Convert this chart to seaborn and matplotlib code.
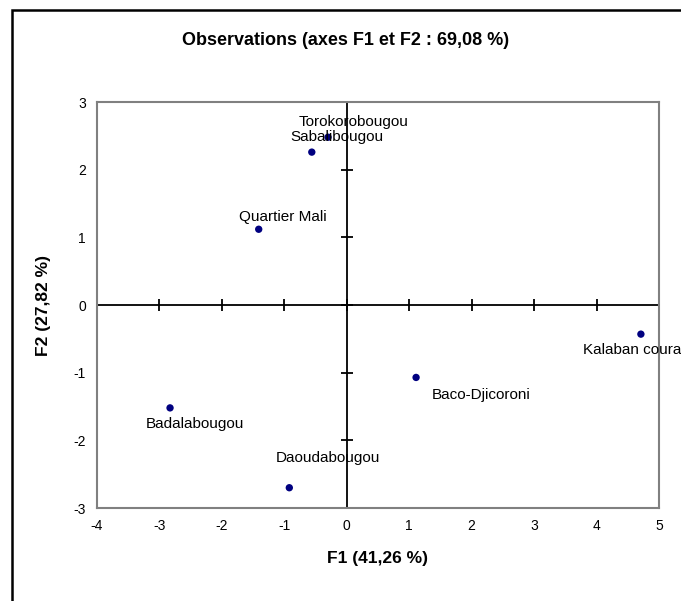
"""Observations plot (ACP, axes F1 et F2)."""
import numpy as np
import pandas as pd
import matplotlib
matplotlib.use("Agg")
import matplotlib.pyplot as plt
from matplotlib.patches import Rectangle
import seaborn as sns

# Données
observations = ["Torokorobougou", "Sabalibougou", "Quartier Mali", "Badalabougou",
                "Daoudabougou", "Baco-Djicoroni", "Kalaban coura"]
f1_scores = [-0.30, -0.56, -1.41, -2.83, -0.92, 1.11, 4.71]
f2_scores = [2.48, 2.26, 1.12, -1.52, -2.70, -1.07, -0.43]

x_ticks = [-4, -3, -2, -1, 0, 1, 2, 3, 4, 5]
y_ticks = [-3, -2, -1, 0, 1, 2, 3]

title = "Observations (axes F1 et F2 : 69,08 %)"
x_label = "F1 (41,26 %)"
y_label = "F2 (27,82 %)"

# décalages des étiquettes (pixels)
label_offsets = [(26, 15), (25, 15), (24, 12), (25, -16), (39, 30), (65, -18), (-9, -16)]

df = pd.DataFrame({"obs": observations, "F1": f1_scores, "F2": f2_scores})

sns.set_style("white")
plt.rcParams["font.family"] = ["Liberation Sans", "DejaVu Sans"]
plt.rcParams["axes.unicode_minus"] = False
plt.rcParams["text.color"] = "black"
plt.rcParams["axes.labelcolor"] = "black"
plt.rcParams["xtick.color"] = "black"
plt.rcParams["ytick.color"] = "black"

fig = plt.figure(figsize=(6.81, 6.01), dpi=100)
ax = fig.add_axes([0.1424, 0.1547, 0.8253, 0.6755])

sns.scatterplot(data=df, x="F1", y="F2", ax=ax, color="#000080", s=28,
                edgecolor="none", zorder=3)

ax.set_xlim(x_ticks[0], x_ticks[-1])
ax.set_ylim(y_ticks[0], y_ticks[-1])
ax.set_xticks(x_ticks)
ax.set_yticks(y_ticks)
ax.tick_params(length=0, labelsize=10, pad=8)

for sp in ax.spines.values():
    sp.set_color("#808080")
    sp.set_linewidth(1.5)

# axes centraux avec graduations
ax.axhline(0, color="black", lw=1.3, zorder=2)
ax.axvline(0, color="black", lw=1.3, zorder=2)
ax.plot(x_ticks, np.zeros(len(x_ticks)), marker="|", ls="none", color="black",
        markersize=9, mew=1.3, zorder=2, clip_on=False)
ax.plot(np.zeros(len(y_ticks)), y_ticks, marker="_", ls="none", color="black",
        markersize=9, mew=1.3, zorder=2, clip_on=False)

for name, x, y, off in zip(observations, f1_scores, f2_scores, label_offsets):
    ax.annotate(name, (x, y), xytext=off, textcoords="offset pixels",
                ha="center", va="center", fontsize=11, zorder=4,
                annotation_clip=False)

ax.set_xlabel(x_label, fontsize=12.5, fontweight="bold", labelpad=13)
ax.set_ylabel(y_label, fontsize=12.5, fontweight="bold", labelpad=16)
fig.text(0.507, 0.932, title, ha="center", va="center", fontsize=13,
         fontweight="bold")

# cadre de la figure (bords gauche et haut visibles)
fig.patches.append(Rectangle((12 / 681, -0.1), 1.2, 1.1 - 10 / 601,
                             transform=fig.transFigure, fill=False,
                             edgecolor="black", lw=1.8))

fig.savefig("out.png", dpi=100)
